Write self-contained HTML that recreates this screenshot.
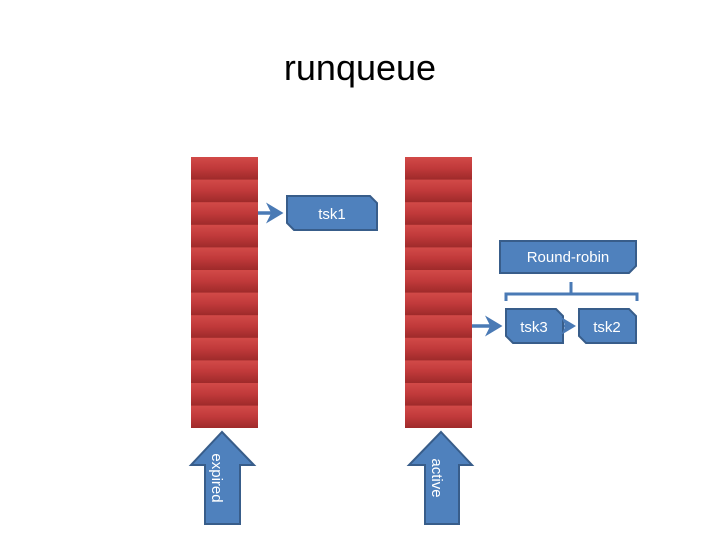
<!DOCTYPE html>
<html><head><style>
body{margin:0;width:720px;height:540px;background:#fff;overflow:hidden;font-family:"Liberation Sans",sans-serif}
</style></head><body>
<svg width="720" height="540" xmlns="http://www.w3.org/2000/svg">
<defs>
<linearGradient id="g" x1="0" y1="0" x2="0" y2="1">
<stop offset="0" stop-color="#d24a48"/><stop offset="0.5" stop-color="#c0393a"/><stop offset="1" stop-color="#9e2a2a"/>
</linearGradient>
<pattern id="rows" x="0" y="157" width="10" height="22.6" patternUnits="userSpaceOnUse">
<rect width="10" height="22.6" fill="url(#g)"/>
</pattern>
<marker id="ah" markerWidth="6" markerHeight="6" refX="4" refY="3" orient="auto" markerUnits="strokeWidth"><path d="M0,0 L5,3 L0,6 L1.5,3z" fill="#4a7ab5"/></marker>
</defs>
<text x="360" y="80" font-size="36" text-anchor="middle" fill="#000">runqueue</text>
<rect x="191" y="157" width="67" height="271" fill="url(#rows)"/>
<rect x="405" y="157" width="67" height="271" fill="url(#rows)"/>
<g stroke="#a33030" stroke-width="1" opacity="0.5">
</g>
<g fill="#4f81bd" stroke="#385d8a" stroke-width="2">
<polygon points="287,196 370,196 377,203 377,230 294,230 287,223"/>
<polygon points="500,241 636,241 636,266 629,273 500,273"/>
<polygon points="506,309 556,309 563,316 563,343 513,343 506,336"/>
<polygon points="579,309 629,309 636,316 636,343 586,343 579,336"/>
<polygon points="222,432 254,465 240,465 240,524 205,524 205,465 191,465"/>
<polygon points="441,432 472,465 459,465 459,524 425,524 425,465 409,465"/>
</g>
<g fill="#fff" font-size="15" text-anchor="middle">
<text x="332" y="219">tsk1</text>
<text x="568" y="262">Round-robin</text>
<text x="534" y="332">tsk3</text>
<text x="607" y="332">tsk2</text>
<text transform="translate(216,478) rotate(90)" text-anchor="middle" dominant-baseline="middle">expired</text>
<text transform="translate(436,478) rotate(90)" text-anchor="middle" dominant-baseline="middle">active</text>
</g>
<g stroke="#4a7ab5" stroke-width="3.5" fill="none">
<line x1="258" y1="213" x2="280" y2="213" marker-end="url(#ah)"/>
<line x1="472" y1="326" x2="499" y2="326" marker-end="url(#ah)"/>
<line x1="564" y1="326" x2="573" y2="326" marker-end="url(#ah)" stroke-width="3"/>
<path d="M506,301 v-7 h131 v7 M571,294 v-12" stroke-width="3"/>
</g>
</svg>
</body></html>
